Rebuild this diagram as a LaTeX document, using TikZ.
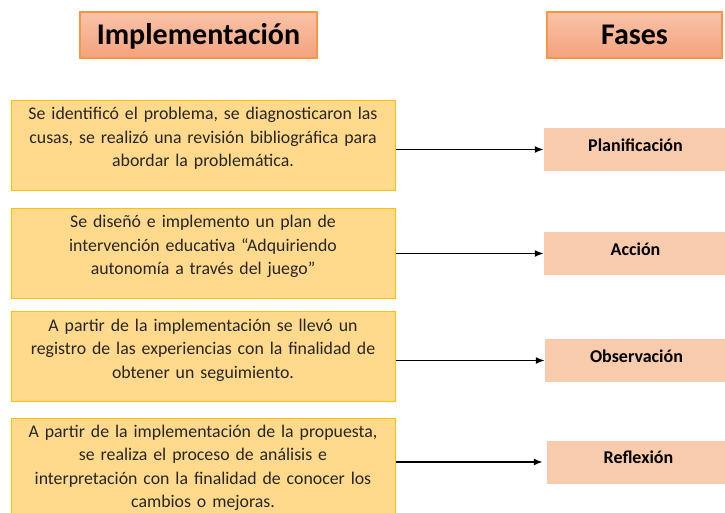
\documentclass[tikz,border=0pt]{standalone}
\usepackage{fontspec}
\setmainfont{Carlito}
\usetikzlibrary{positioning, arrows.meta}

\definecolor{titulotop}{HTML}{F9C3A7}
\definecolor{titulobot}{HTML}{F4A27E}
\definecolor{titulodraw}{HTML}{F79646}
\definecolor{pasofill}{HTML}{FFD98C}
\definecolor{pasodraw}{HTML}{FFC000}
\definecolor{pasotext}{HTML}{262626}
\definecolor{fasefill}{HTML}{F8CBAD}
\newcommand{\pasofin}{\endgraf\vspace*{13pt}}

\begin{document}
\begin{tikzpicture}[x=1pt, y=-1pt,
		titulo/.style={draw=titulodraw, line width=1.2pt, top color=titulotop, bottom color=titulobot, minimum height=46pt, font=\fontsize{30}{32}\selectfont\bfseries, text height=19pt, text depth=0pt},
		paso/.style={draw=pasodraw, line width=1pt, fill=pasofill, minimum width=384pt, minimum height=90pt, text width=376pt, align=center, text=pasotext, font=\fontsize{17.8}{23.5}\selectfont, execute at end node=\pasofin},
		fase/.style={fill=fasefill, minimum width=183pt, minimum height=43pt, font=\fontsize{18}{20}\selectfont\bfseries, text height=3pt, text depth=0pt},
		flecha/.style={line width=1.7pt, -{Latex[length=9pt,width=7pt]}}]
		\useasboundingbox (0,0) rectangle (725,512);
		\clip (0,0) rectangle (725,512);
		\node[titulo, minimum width=237pt] (impl) at (198.5,35) {Implementación};
		\node[titulo, minimum width=175pt] (fases) at (634.5,35) {Fases};
		\node[paso] (p1) at (203,145) {Se identificó el problema, se diagnosticaron las\\cusas, se realizó una revisión bibliográfica para\\abordar la problemática.};
		\node[paso] (p2) at (203,253) {Se diseñó e implemento un plan de\\intervención educativa “Adquiriendo\\autonomía a través del juego”};
		\node[paso] (p3) at (203,356.5) {A partir de la implementación se llevó un\\registro de las experiencias con la finalidad de\\obtener un seguimiento.};
		\node[paso, anchor=north, inner ysep=6.5pt] (p4) at (203,418) {A partir de la implementación de la propuesta,\\se realiza el proceso de análisis e\\interpretación con la finalidad de conocer los\\cambios o mejoras.};
		\node[fase] (f1) at (635.5,149.5) {Planificación};
		\node[fase] (f2) at (635.5,253.5) {Acción};
		\node[fase] (f3) at (636.5,360.5) {Observación};
		\node[fase] (f4) at (638.5,462) {Reflexión};
		\draw[flecha] (p1.east |- f1) -- (f1.west);
		\draw[flecha] (p2.east |- f2) -- (f2.west);
		\draw[flecha] (p3.east |- f3) -- (f3.west);
		\draw[flecha] (p4.east |- f4) -- ([xshift=-4pt]f4.west);
\end{tikzpicture}
\end{document}
